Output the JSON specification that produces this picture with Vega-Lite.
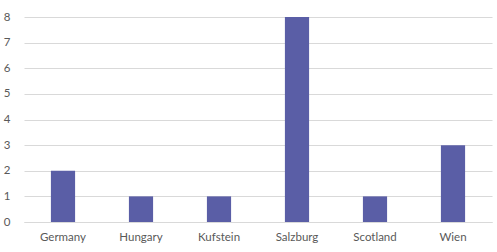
{
  "$schema": "https://vega.github.io/schema/vega-lite/v6.json",
  "autosize": {"type": "none"},
  "width": 468,
  "height": 205,
  "padding": {"left": 24, "top": 17, "right": 5, "bottom": 30},
  "background": "white",
  "data": {"values": [
    {"place": "Germany", "count": 2},
    {"place": "Hungary", "count": 1},
    {"place": "Kufstein", "count": 1},
    {"place": "Salzburg", "count": 8},
    {"place": "Scotland", "count": 1},
    {"place": "Wien", "count": 3}
  ]},
  "mark": {"type": "bar", "color": "#5a5ea6"},
  "encoding": {
    "x": {"field": "place", "type": "nominal", "sort": null,
      "scale": {"paddingInner": 0.69, "paddingOuter": 0.345},
      "axis": {"title": null, "labelAngle": 0, "ticks": false, "domainColor": "#d9d9d9", "labelFont": "Lato", "labelFontSize": 11.5, "labelColor": "#595959", "labelPadding": 9}},
    "y": {"field": "count", "type": "quantitative",
      "scale": {"domain": [0, 8]},
      "axis": {"title": null, "tickCount": 8, "ticks": false, "domain": false, "gridColor": "#d9d9d9", "labelFont": "Lato", "labelFontSize": 11.5, "labelColor": "#595959", "labelPadding": 14}}
  },
  "config": {"view": {"stroke": null}}
}
